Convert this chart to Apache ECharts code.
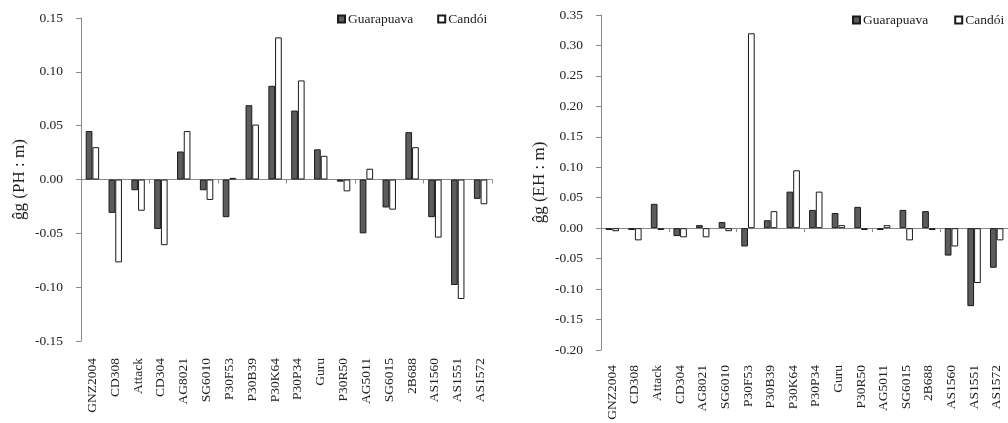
<!DOCTYPE html>
<html>
<head>
<meta charset="utf-8">
<script src="https://cdn.jsdelivr.net/npm/echarts@6/dist/echarts.min.js"></script>
<style>
  html, body { margin: 0; padding: 0; background: #fff; }
  #chart { width: 1008px; height: 423px; }
</style>
</head>
<body>
<div id="chart"></div>
<script>
// Hybrids (shared by both panels)
const hybrids = ['GNZ2004', 'CD308', 'Attack', 'CD304', 'AG8021', 'SG6010', 'P30F53', 'P30B39',
  'P30K64', 'P30P34', 'Guru', 'P30R50', 'AG5011', 'SG6015', '2B688', 'AS1560', 'AS1551', 'AS1572'];

// Plant height (PH, m) effects
const phGuarapuava = [0.045, -0.031, -0.010, -0.046, 0.026, -0.010, -0.035, 0.069, 0.087, 0.064,
  0.028, -0.002, -0.050, -0.026, 0.044, -0.035, -0.098, -0.018];
const phCandoi = [0.030, -0.077, -0.029, -0.061, 0.045, -0.019, 0.0015, 0.051, 0.132, 0.092,
  0.022, -0.011, 0.010, -0.028, 0.030, -0.054, -0.111, -0.023];

// Ear height (EH, m) effects
const ehGuarapuava = [-0.003, -0.003, 0.040, -0.013, 0.005, 0.010, -0.030, 0.013, 0.060, 0.030,
  0.025, 0.035, -0.003, 0.030, 0.028, -0.045, -0.128, -0.065];
const ehCandoi = [-0.005, -0.020, -0.003, -0.015, -0.015, -0.005, 0.320, 0.028, 0.095, 0.060,
  0.005, -0.003, 0.005, -0.020, -0.003, -0.030, -0.090, -0.020];

// Axis settings
const phAxis = { min: -0.15, max: 0.15, step: 0.05, title: 'ĝg (PH : m)' };
const ehAxis = { min: -0.20, max: 0.35, step: 0.05, title: 'ĝg (EH : m)' };
const seriesNames = ['Guarapuava', 'Candói'];

const FONT = '"Liberation Serif", "Times New Roman", serif';
const TEXT = '#222';
const AXIS = '#8a8a8a';

function yAxisFor(ax, gridIndex) {
  return {
    type: 'value', gridIndex,
    min: ax.min, max: ax.max, interval: ax.step,
    name: ax.title, nameLocation: 'middle', nameGap: 53,
    nameTextStyle: { fontFamily: FONT, fontSize: 17, color: TEXT },
    axisLine: { show: true, lineStyle: { color: AXIS, width: 1 } },
    axisTick: { show: true, inside: false, length: 5, lineStyle: { color: AXIS } },
    axisLabel: { fontFamily: FONT, fontSize: 13.5, color: TEXT, margin: 18,
      formatter: v => v.toFixed(2) },
    splitLine: { show: false }
  };
}

function xAxesFor(gridIndex, labelMargin) {
  return [
    { // zero line with tick marks
      type: 'category', gridIndex, data: hybrids, position: 'bottom',
      axisLine: { onZero: true, lineStyle: { color: AXIS, width: 1 } },
      axisTick: { show: true, length: 4, lineStyle: { color: AXIS } },
      axisLabel: { show: false }
    },
    { // rotated hybrid names below the plot
      type: 'category', gridIndex, data: hybrids, position: 'bottom',
      axisLine: { show: false, onZero: false },
      axisTick: { show: false },
      axisLabel: { show: true, interval: 0, rotate: 90, margin: labelMargin,
        fontFamily: FONT, fontSize: 13.5, color: TEXT }
    }
  ];
}

function barPair(g, c, xAxisIndex, yAxisIndex) {
  const common = { type: 'bar', xAxisIndex, yAxisIndex, barWidth: 6.7, barGap: '0%',
    animation: false, emphasis: { disabled: true } };
  return [
    Object.assign({}, common, { name: seriesNames[0], data: g,
      itemStyle: { color: '#5c5c5c', borderColor: '#1a1a1a', borderWidth: 1 } }),
    Object.assign({}, common, { name: seriesNames[1], data: c,
      itemStyle: { color: '#ffffff', borderColor: '#1a1a1a', borderWidth: 1 } })
  ];
}

function legendAt(left, top, gap) {
  return {
    left, top, orient: 'horizontal', itemGap: gap, padding: 0, width: 170,
    itemWidth: 7, itemHeight: 7, icon: 'rect',
    data: seriesNames,
    textStyle: { fontFamily: FONT, fontSize: 13.5, color: TEXT, padding: [0, 0, 0, -2] },
    selectedMode: false
  };
}

const chart = echarts.init(document.getElementById('chart'), null, { renderer: 'canvas' });
chart.setOption({
  backgroundColor: '#ffffff',
  animation: false,
  grid: [
    { left: 81, top: 18, width: 411, height: 323, containLabel: false },
    { left: 601, top: 15, width: 412, height: 335, containLabel: false }
  ],
  legend: [legendAt(337, 12, 24), legendAt(852, 13, 26)],
  xAxis: [...xAxesFor(0, 17), ...xAxesFor(1, 15)],
  yAxis: [yAxisFor(phAxis, 0), yAxisFor(ehAxis, 1)],
  series: [
    ...barPair(phGuarapuava, phCandoi, 0, 0),
    ...barPair(ehGuarapuava, ehCandoi, 2, 1)
  ]
});
</script>
</body>
</html>
